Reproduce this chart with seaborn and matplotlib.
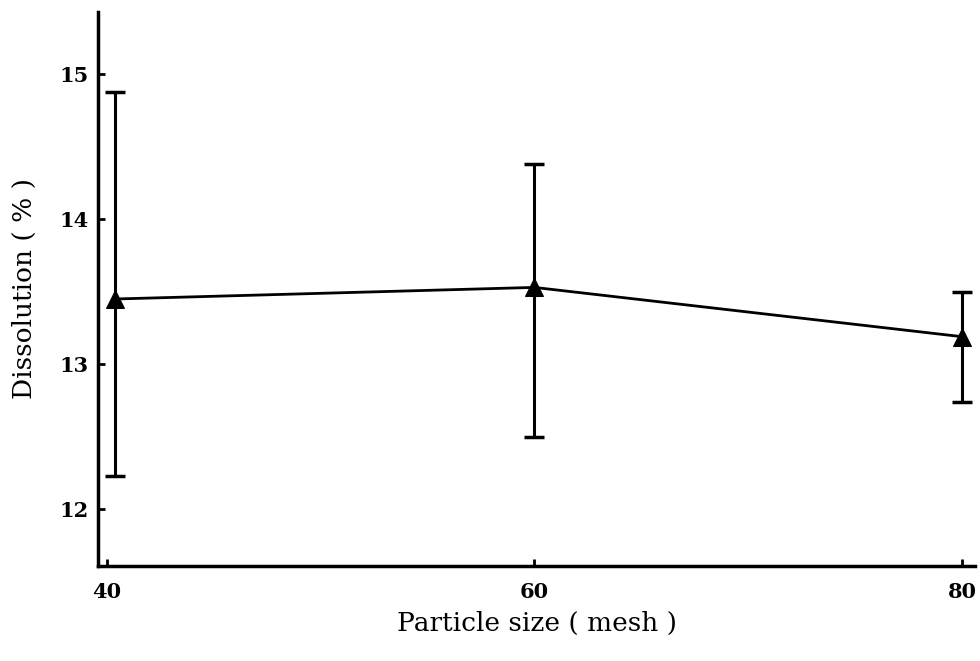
import numpy as np
import pandas as pd
import matplotlib
matplotlib.use("Agg")
import matplotlib.pyplot as plt
import seaborn as sns

# data
mesh = [40.4, 60, 80]
dissolution = [13.45, 13.53, 13.19]
err_low = [12.23, 12.50, 12.74]
err_high = [14.88, 14.38, 13.50]

df = pd.DataFrame({"mesh": mesh, "dissolution": dissolution})

sns.set_style("white")
plt.rcParams["font.family"] = ["DejaVu Serif", "Liberation Serif"]

fig = plt.figure(figsize=(9.8, 6.61), dpi=100)
ax = fig.add_axes([0.1, 0.144, 0.895, 0.838])

sns.lineplot(data=df, x="mesh", y="dissolution", ax=ax, color="black",
             linewidth=2, marker="^", markersize=13, markeredgecolor="black")

yerr = [np.array(dissolution) - np.array(err_low),
        np.array(err_high) - np.array(dissolution)]
ax.errorbar(mesh, dissolution, yerr=yerr, fmt="none", ecolor="black",
            elinewidth=2.2, capsize=7, capthick=2.5)

ax.set_xlim(39.6, 80.6)
ax.set_ylim(11.61, 15.43)
ax.set_xticks([40, 60, 80])
ax.set_yticks([12, 13, 14, 15])
ax.tick_params(bottom=True, left=True, direction="in", length=5, width=2,
               labelsize=15, labelcolor="black", color="black")
ax.tick_params(axis="x", pad=12)
ax.tick_params(axis="y", pad=7)
for lab in ax.get_xticklabels() + ax.get_yticklabels():
    lab.set_fontweight("bold")

sns.despine(ax=ax)
for side in ["left", "bottom"]:
    ax.spines[side].set_linewidth(2.5)
    ax.spines[side].set_color("black")

ax.set_xlabel("Particle size ( mesh )", fontsize=19, color="black",
              labelpad=6)
ax.set_ylabel("Dissolution ( % )", fontsize=19, color="black",
              labelpad=16)

fig.savefig("out.png", dpi=100)
